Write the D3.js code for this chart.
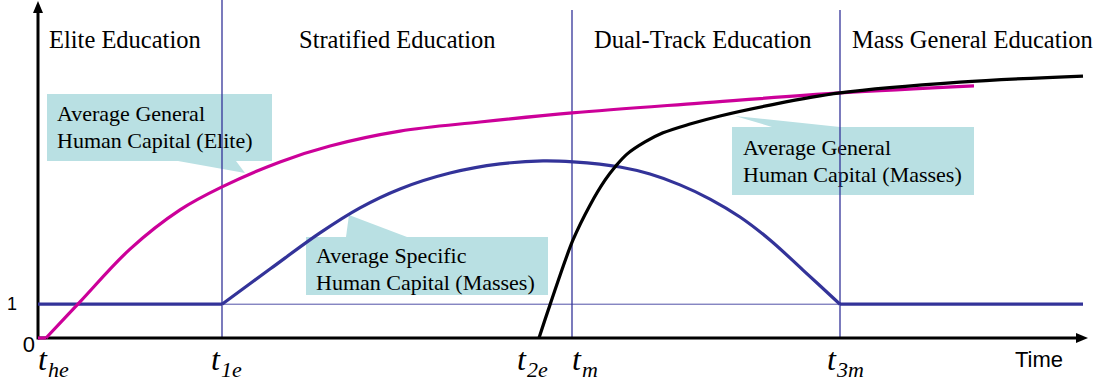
<!DOCTYPE html>
<html>
<head>
<meta charset="utf-8">
<script src="https://cdn.jsdelivr.net/npm/d3@7"></script>
</head>
<body style="margin:0">
<svg id="chart" width="1104" height="383"></svg>
<script>
// ---------------- DATA ----------------
// Regime boundaries (time units)
const boundaryNames = ["t1e", "tm", "t3m"];
const boundaryTimes = [1.84, 5.34, 8.02];

// Time tick labels: letter t + subscript
const tickTimes = [0.08, 1.84, 5.01, 5.34, 8.02];
const tickSubs  = ["he", "1e", "2e", "m", "3m"];

// Regime titles
const regimeLabels = ["Elite Education", "Stratified Education", "Dual-Track Education", "Mass General Education"];

// Y tick labels
const yTickValues = [0, 1];
const yTickLabels = ["0", "1"];

// Average General Human Capital (Elite), pink
const eliteT = [0.08, 0.42, 0.92, 1.42, 1.84, 2.42, 2.92, 3.62, 4.42, 5.34, 6.62, 8.02, 9.36];
const eliteV = [0.00, 1.07, 2.63, 3.79, 4.47, 5.21, 5.68, 6.12, 6.39, 6.66, 6.95, 7.25, 7.46];

// Average Specific Human Capital (Masses), blue
const specFlat1 = [[0, 1], [1.84, 1]];
const specT = [1.84, 2.32, 2.82, 3.22, 3.62, 4.12, 4.62, 5.05, 5.35, 5.82, 6.12, 6.42, 6.72, 7.02, 7.32, 7.65, 8.02];
const specV = [1.00, 2.04, 3.11, 3.85, 4.41, 4.88, 5.15, 5.24, 5.21, 5.06, 4.85, 4.53, 4.11, 3.58, 2.90, 2.01, 1.00];
const specFlat2 = [[8.02, 1], [10.45, 1]];

// Average General Human Capital (Masses), black
const massT = [5.01, 5.12, 5.35, 5.52, 5.67, 5.77, 5.89, 6.07, 6.25, 6.52, 6.82, 7.32, 8.02, 9.22, 10.45];
const massV = [0.00, 0.98, 2.90, 3.93, 4.67, 5.06, 5.44, 5.80, 6.07, 6.33, 6.57, 6.89, 7.25, 7.57, 7.75];

// Callout texts
const callout1 = ["Average General", "Human Capital (Elite)"];
const callout2 = ["Average Specific", "Human Capital (Masses)"];
const callout3 = ["Average General", "Human Capital (Masses)"];

// ---------------- LAYOUT ----------------
const svg = d3.select("#chart");
const x = d3.scaleLinear().domain([0, 10.5]).range([38, 1088]);
const y = d3.scaleLinear().domain([0, 10]).range([338, 0]);
const PINK = "#cc0099", BLUE = "#333399", BOX = "#b9e0e3";
const SERIF = '"Liberation Serif"';
const SANS = '"Liberation Sans"';

const zip = (a, b) => a.map((d, i) => [d, b[i]]);
const linePath = d3.line().x(d => x(d[0])).y(d => y(d[1]));
const curvePath = d3.line().x(d => x(d[0])).y(d => y(d[1])).curve(d3.curveCatmullRom.alpha(0.5));

// Callout boxes (screen layout)
const callouts = [
  { lines: callout1, box: [47, 94, 225, 67], ptr: [[178, 161], [245, 173], [236, 161]], tx: 57, ty: 121 },
  { lines: callout2, box: [306, 237, 242, 58], ptr: [[346, 237], [349, 215], [407, 237]], tx: 316, ty: 263 },
  { lines: callout3, box: [732, 127, 242, 68], ptr: [[772, 127], [735, 116], [840, 127]], tx: 743, ty: 155 }
];
callouts.forEach(c => {
  svg.append("rect").attr("x", c.box[0]).attr("y", c.box[1])
    .attr("width", c.box[2]).attr("height", c.box[3]).attr("fill", BOX);
  svg.append("path").attr("d", "M" + c.ptr.map(p => p.join(",")).join("L") + "Z").attr("fill", BOX);
  c.lines.forEach((t, i) => {
    svg.append("text").attr("x", c.tx).attr("y", c.ty + i * 27)
      .style("font-family", SERIF).style("font-size", "22px").text(t);
  });
});

// Thin reference line at level 1
svg.append("line").attr("x1", x(0)).attr("x2", x(10.45))
  .attr("y1", y(1)).attr("y2", y(1))
  .attr("stroke", BLUE).attr("stroke-width", 1).attr("stroke-opacity", 0.85);

// Vertical boundary lines
const vTops = [0, 10, 10];
boundaryTimes.forEach((t, i) => {
  svg.append("line").attr("x1", x(t)).attr("x2", x(t))
    .attr("y1", vTops[i]).attr("y2", y(0))
    .attr("stroke", BLUE).attr("stroke-width", 1.3);
});

// Axes with arrowheads
svg.append("line").attr("x1", x(0)).attr("x2", x(10.5) - 8)
  .attr("y1", y(0)).attr("y2", y(0)).attr("stroke", "#000").attr("stroke-width", 3);
svg.append("path").attr("d", `M${x(10.5)},${y(0)}L${x(10.5) - 12},${y(0) - 5}L${x(10.5) - 12},${y(0) + 5}Z`).attr("fill", "#000");
svg.append("line").attr("x1", x(0)).attr("x2", x(0))
  .attr("y1", y(0) + 1.5).attr("y2", 10).attr("stroke", "#000").attr("stroke-width", 3);
svg.append("path").attr("d", `M${x(0)},1L${x(0) - 5},13L${x(0) + 5},13Z`).attr("fill", "#000");

// Specific human capital (blue)
[specFlat1, specFlat2].forEach(seg => {
  svg.append("path").attr("d", linePath(seg)).attr("fill", "none")
    .attr("stroke", BLUE).attr("stroke-width", 3.2);
});
svg.append("path").attr("d", curvePath(zip(specT, specV))).attr("fill", "none")
  .attr("stroke", BLUE).attr("stroke-width", 3.2);

// Elite general human capital (pink)
svg.append("path").attr("d", linePath([[0, 0], [eliteT[0], 0]])).attr("fill", "none")
  .attr("stroke", PINK).attr("stroke-width", 3.2);
svg.append("path").attr("d", curvePath(zip(eliteT, eliteV))).attr("fill", "none")
  .attr("stroke", PINK).attr("stroke-width", 3.2);

// Masses general human capital (black)
svg.append("path").attr("d", curvePath(zip(massT, massV))).attr("fill", "none")
  .attr("stroke", "#000").attr("stroke-width", 3.2);

// Regime titles
const regimeX = [49, 299, 594, 852];
regimeLabels.forEach((t, i) => {
  svg.append("text").attr("x", regimeX[i]).attr("y", 48)
    .style("font-family", SERIF).style("font-size", "24.5px").text(t);
});

// Y tick labels
const yLabX = [35, 17], yLabSize = [22, 18], yLabDy = [14, 6];
yTickValues.forEach((v, i) => {
  svg.append("text").attr("x", yLabX[i]).attr("y", y(v) + yLabDy[i])
    .attr("text-anchor", "end").style("font-family", SANS).style("font-size", yLabSize[i] + "px")
    .text(yTickLabels[i]);
});

// Time tick labels (italic t with subscripts)
const tickLeft = [38, 211, 517, 572, 827];
tickTimes.forEach((t, i) => {
  const tx = svg.append("text").attr("x", tickLeft[i]).attr("y", 370)
    .style("font-family", SERIF).style("font-style", "italic");
  tx.append("tspan").style("font-size", "32px").text("t");
  tx.append("tspan").style("font-size", "22px").attr("dy", 7).attr("dx", 1).text(tickSubs[i]);
});

// "Time" axis title
svg.append("text").attr("x", 1063).attr("y", 367).attr("text-anchor", "end")
  .style("font-family", SANS).style("font-size", "22px").text("Time");
</script>
</body>
</html>
